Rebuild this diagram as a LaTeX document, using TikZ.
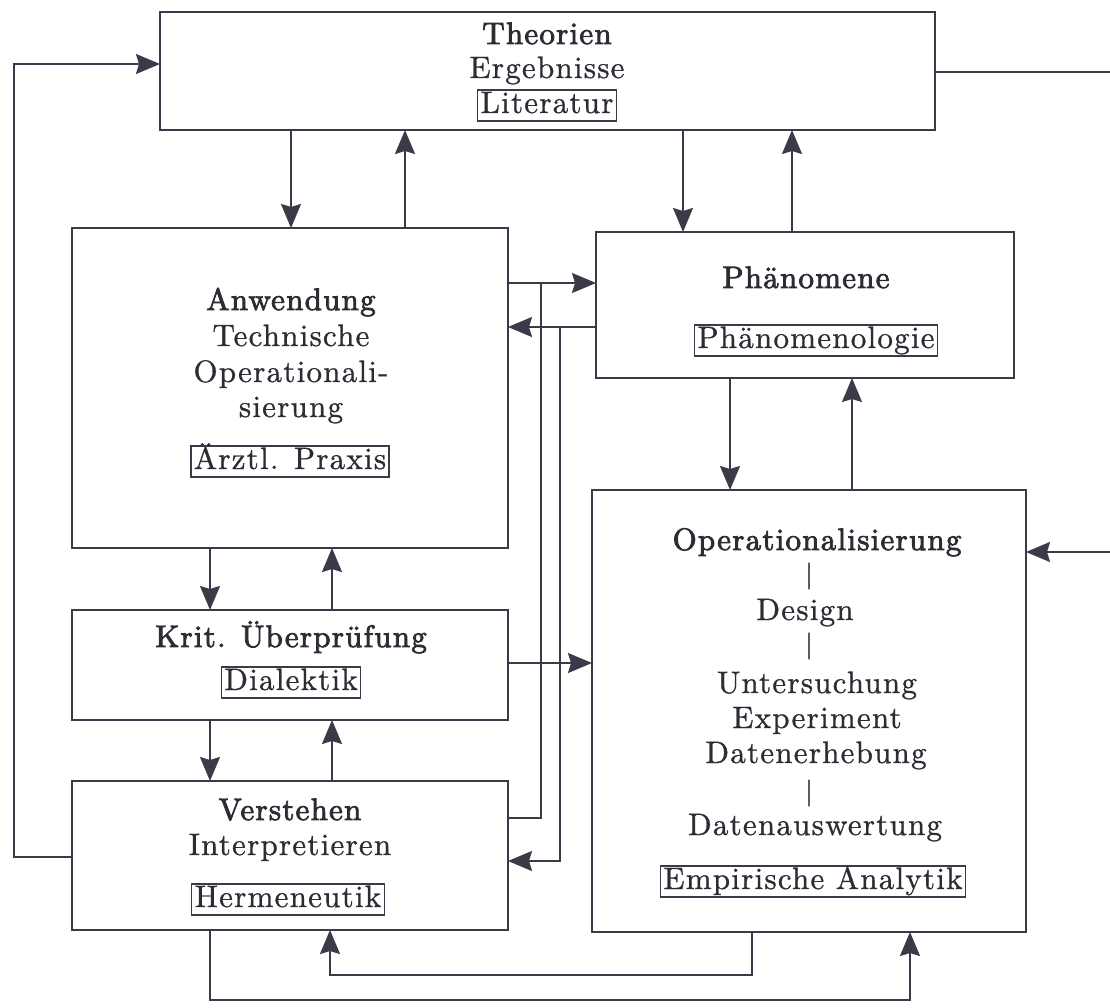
\documentclass[tikz,border=0pt]{standalone}
\usepackage{fontspec}
\setmainfont{lmroman10-regular.otf}[LetterSpace=4, FakeBold=0.9]
\newfontfamily\semib{lmroman10-regular.otf}[LetterSpace=4, FakeBold=2.6]
\usetikzlibrary{arrows.meta}
\definecolor{ink}{HTML}{3A3A48}
\definecolor{txtc}{HTML}{2C2C34}
\tikzset{
  box/.style={draw=ink, line width=2pt, inner sep=0pt, outer sep=0pt},
  txt/.style={anchor=base, inner sep=0pt, text=txtc, font=\fontsize{31}{36}\selectfont},
  ttl/.style={txt, font=\semib\fontsize{31}{36}\selectfont},
  lab/.style={txt, draw=ink, line width=1.4pt, inner xsep=3pt, inner ysep=2pt, text height=21pt, text depth=6pt},
  bar/.style={anchor=center, inner sep=0pt, text=txtc, font=\fontsize{27}{36}\selectfont},
  ln/.style={ink, line width=2pt},
  arr/.style={ink, line width=2pt, -{Stealth[length=24pt,width=20pt,inset=3pt]}}
}
\begin{document}
\begin{tikzpicture}[x=1pt,y=-1pt]
\useasboundingbox (0,0) rectangle (1110,1008);
% boxes
\node[box, minimum width=775, minimum height=118] (theo) at (547.5,71) {};
\node[box, minimum width=436, minimum height=320] (anw) at (290,388) {};
\node[box, minimum width=418, minimum height=146] (phae) at (805,305) {};
\node[box, minimum width=436, minimum height=110] (krit) at (290,665) {};
\node[box, minimum width=436, minimum height=149] (ver) at (290,855.5) {};
\node[box, minimum width=434, minimum height=442] (op) at (809,711) {};
% texts Theorien
\node[ttl] (t1) at (547,44) {Theorien};
\node[txt] (t2) at (547,78) {Ergebnisse};
\node[lab] (t3) at (547,113) {Literatur};
% Anwendung
\node[ttl] (a1) at (291,310) {Anwendung};
\node[txt] (a2) at (291,346) {Technische};
\node[txt] (a3) at (291,382) {Operationali-};
\node[txt] (a4) at (291,417) {sierung};
\node[lab] (a5) at (290,469) {Ärztl. Praxis};
% Phaenomene
\node[ttl] (p1) at (806,288) {Phänomene};
\node[lab] (p2) at (816,348) {Phänomenologie};
% Krit
\node[ttl] (k1) at (291,647) {Krit. Überprüfung};
\node[lab] (k2) at (291,690) {Dialektik};
% Verstehen
\node[ttl] (v1) at (290,820) {Verstehen};
\node[txt] (v2) at (290,855) {Interpretieren};
\node[lab] (v3) at (288,907) {Hermeneutik};
% Operationalisierung
\node[ttl] (o1) at (817,550) {Operationalisierung};
\node[bar] (o2) at (809,576) {|};
\node[txt] (o3) at (805,620) {Design};
\node[bar] (o4) at (809,646) {|};
\node[txt] (o5) at (817,693) {Untersuchung};
\node[txt] (o6) at (817,728) {Experiment};
\node[txt] (o7) at (816,763) {Datenerhebung};
\node[bar] (o8) at (809,793) {|};
\node[txt] (o9) at (815,835) {Datenauswertung};
\node[lab] (o10) at (813,889) {Empirische Analytik};
% vertical arrows
\draw[arr] (291,0 |- theo.south) -- (291,0 |- anw.north);
\draw[arr] (405,0 |- anw.north) -- (405,0 |- theo.south);
\draw[arr] (683,0 |- theo.south) -- (683,0 |- phae.north);
\draw[arr] (792,0 |- phae.north) -- (792,0 |- theo.south);
\draw[arr] (730,0 |- phae.south) -- (730,0 |- op.north);
\draw[arr] (852,0 |- op.north) -- (852,0 |- phae.south);
\draw[arr] (210,0 |- anw.south) -- (210,0 |- krit.north);
\draw[arr] (332,0 |- krit.north) -- (332,0 |- anw.south);
\draw[arr] (210,0 |- krit.south) -- (210,0 |- ver.north);
\draw[arr] (332,0 |- ver.north) -- (332,0 |- krit.south);
% horizontal connectors
\draw[arr] (krit.east |- 0,663) -- (op.west |- 0,663);
\draw[arr] (anw.east |- 0,283) -- (phae.west |- 0,283);
\coordinate (j1) at (541,283);
\draw[ln] (ver.east |- 0,818) -| (j1);
\draw[arr] (phae.west |- 0,327) -- (anw.east |- 0,327);
\coordinate (j2) at (560,327);
\draw[arr] (j2) |- (ver.east |- 0,861);
\coordinate (outR) at (1110,72);
\draw[ln] (theo.east |- outR) -- (outR);
\coordinate (inR) at (1110,552);
\draw[arr] (inR) -- (op.east |- inR);
\draw[arr] (ver.west |- 0,857) -| (14,64) -- (theo.west |- 0,64);
\draw[arr] (752,0 |- op.south) |- (330,975) -- (330,0 |- ver.south);
\draw[arr] (210,0 |- ver.south) |- (910,1000) -- (910,0 |- op.south);
\end{tikzpicture}
\end{document}
